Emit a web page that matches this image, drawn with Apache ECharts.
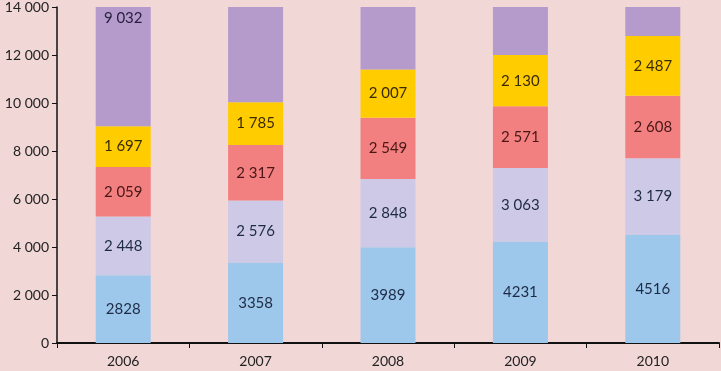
<!DOCTYPE html>
<html>
<head>
<meta charset="utf-8">
<script src="https://cdn.jsdelivr.net/npm/echarts@6/dist/echarts.min.js"></script>
<style>
  html, body { margin: 0; padding: 0; background: #f2d7d7; }
  #main { width: 721px; height: 371px; }
</style>
</head>
<body>
<div id="main"></div>
<script>
const years = ['2006', '2007', '2008', '2009', '2010']
const blueVals = [2828, 3358, 3989, 4231, 4516]
const lavenderVals = [2448, 2576, 2848, 3063, 3179]
const redVals = [2059, 2317, 2549, 2571, 2608]
const yellowVals = [1697, 1785, 2007, 2130, 2487]
// top segment runs past the axis max; only 2006 is readable
const purpleVals = [9032, 9600, 9900, 10300, 10600]
const yMax = 14000

const chart = echarts.init(document.getElementById('main'))

// space as thousands separator, like the original
const spaced = (v) => String(v).replace(/\B(?=(\d{3})+(?!\d))/g, ' ')

function barSeries(name, vals, color, labelColor, fmt) {
  return {
    name: name,
    type: 'bar',
    stack: 'total',
    barWidth: 55,
    itemStyle: { color: color },
    label: {
      show: true,
      position: 'inside',
      color: labelColor,
      fontSize: 15,
      fontFamily: 'Lato',
      formatter: (p) => fmt(p.value),
    },
    data: vals,
  }
}

// purple: label only where the middle of the full bar is still on the axis
const below = years.map((_, i) => blueVals[i] + lavenderVals[i] + redVals[i] + yellowVals[i])
const purpleData = purpleVals.map((v, i) => ({
  value: v,
  label: { show: below[i] + v / 2 <= yMax },
}))

const option = {
  backgroundColor: '#f2d7d7',
  animation: false,
  grid: { left: 57, right: 2, top: 5, bottom: 28 },
  xAxis: {
    type: 'category',
    data: years,
    axisLine: { lineStyle: { color: '#111', width: 2 } },
    axisTick: { show: true, length: 5, lineStyle: { color: '#111' } },
    axisLabel: { color: '#222', fontSize: 14, fontFamily: 'Lato', margin: 11 },
  },
  yAxis: {
    type: 'value',
    min: 0,
    max: yMax,
    interval: 2000,
    splitLine: { show: false },
    axisLine: { show: true, lineStyle: { color: '#111', width: 1.5 } },
    axisTick: { show: true, length: 5, lineStyle: { color: '#111' } },
    axisLabel: {
      color: '#222',
      fontSize: 14,
      fontFamily: 'Lato',
      margin: 8,
      formatter: spaced,
    },
  },
  series: [
    barSeries('blue', blueVals, '#9dc7eb', '#1e2b45', (v) => String(v)),
    barSeries('lavender', lavenderVals, '#cdc9e7', '#1e2b45', spaced),
    barSeries('red', redVals, '#f28080', '#4a1616', spaced),
    barSeries('yellow', yellowVals, '#ffcc00', '#3a2a00', spaced),
    Object.assign(barSeries('purple', purpleData, '#b49bcb', '#2a2040', spaced), {
      label: {
        position: 'insideTop',
        distance: 4,
        color: '#2a2040',
        fontSize: 15,
        fontFamily: 'Lato',
        formatter: (p) => spaced(p.value),
      },
    }),
  ],
}

option && chart.setOption(option)
</script>
</body>
</html>
